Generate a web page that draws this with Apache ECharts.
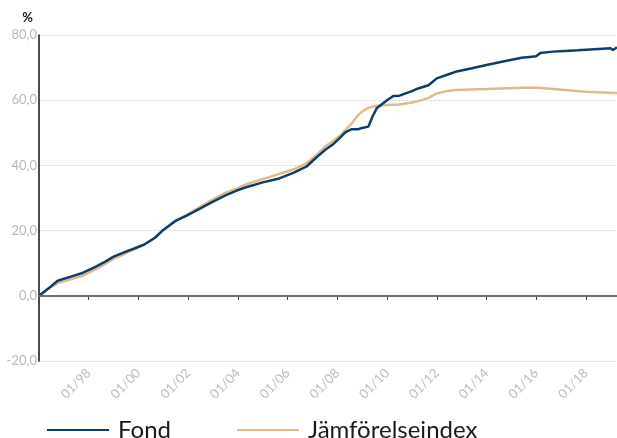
<!DOCTYPE html>
<html>
<head>
<meta charset="utf-8">
<script src="https://cdn.jsdelivr.net/npm/echarts@6/dist/echarts.min.js"></script>
<style>
  html, body { margin: 0; padding: 0; background: #fff; }
  #chart { width: 617px; height: 438px; }
</style>
</head>
<body>
<div id="chart"></div>
<script>
var fondDates = ['1996-01','1996-04','1996-07','1996-10','1997-04','1997-10','1998-04','1998-09',
  '1999-01','1999-06','1999-11','2000-04','2000-09','2001-01','2001-07','2001-12','2002-06',
  '2003-01','2003-07','2004-01','2004-05','2005-01','2005-09','2006-04','2006-10','2007-03',
  '2007-07','2007-11','2008-02','2008-05','2008-08','2008-11','2009-01','2009-04','2009-06',
  '2009-08','2010-01','2010-04','2010-07','2011-01','2011-04','2011-09','2012-01','2012-06',
  '2012-10','2013-06','2014-01','2014-09','2015-06','2016-01','2016-03','2016-09','2017-03',
  '2017-09','2018-01','2018-07','2019-01','2019-02','2019-04'];
var fondValues = [0, 1.5, 3.0, 4.6, 5.8, 7.0, 8.8, 10.5,
  12.0, 13.3, 14.5, 15.8, 17.8, 20.2, 23.0, 24.5, 26.5,
  28.9, 30.8, 32.4, 33.3, 34.8, 36.0, 37.8, 39.6, 42.5,
  44.7, 46.5, 48.3, 50.2, 51.1, 51.1, 51.5, 51.9, 55.0,
  57.5, 60.0, 61.3, 61.4, 62.8, 63.6, 64.6, 66.7, 67.8,
  68.7, 69.8, 70.8, 71.9, 73.0, 73.5, 74.5, 74.9, 75.1,
  75.3, 75.5, 75.7, 75.9, 75.4, 76.2];

var indexDates = ['1996-01','1996-07','1996-10','1997-04','1997-10','1998-04','1998-09','1999-01',
  '1999-06','1999-11','2000-04','2000-09','2001-01','2001-07','2001-12','2002-06','2003-01',
  '2003-07','2004-01','2004-05','2005-01','2005-09','2006-04','2006-10','2007-03','2007-07',
  '2007-11','2008-02','2008-05','2008-08','2008-11','2009-01','2009-04','2009-08','2010-01',
  '2010-07','2011-01','2011-04','2011-09','2012-01','2012-06','2012-10','2014-01','2015-06',
  '2016-02','2017-03','2018-01','2019-01','2019-04'];
var indexValues = [0, 2.8, 3.9, 5.0, 6.1, 8.0, 9.8, 11.3,
  12.8, 14.3, 15.8, 17.8, 20.2, 23.2, 24.7, 27.0, 29.6,
  31.6, 33.0, 34.2, 35.8, 37.4, 38.8, 40.6, 43.2, 45.7,
  47.5, 49.0, 51.0, 52.9, 55.4, 56.5, 57.7, 58.3, 58.5,
  58.7, 59.3, 59.7, 60.7, 62.1, 62.8, 63.1, 63.4, 63.8,
  63.8, 63.1, 62.6, 62.3, 62.2];

var tickYears = [1998, 2000, 2002, 2004, 2006, 2008, 2010, 2012, 2014, 2016, 2018];
var seriesNames = ['Fond', 'Jämförelseindex'];

function toYear(s) {
  var p = s.split('-');
  return +p[0] + (+p[1] - 1) / 12;
}
function pairs(dates, vals) {
  return dates.map(function (d, i) { return [toYear(d), vals[i]]; });
}

var chart = echarts.init(document.getElementById('chart'));
chart.setOption({
  animation: false,
  textStyle: { fontFamily: 'Lato' },
  grid: { left: 39, right: 0, top: 35, bottom: 77 },
  legend: {
    left: 42, top: 413,
    itemWidth: 62, itemHeight: 2, itemGap: 66,
    icon: 'rect',
    textStyle: { fontSize: 24, color: '#1a1a1a', padding: [0, 0, 0, 4] },
    data: seriesNames
  },
  xAxis: {
    type: 'value',
    min: 1996, max: 2019.25,
    axisLine: { show: false },
    splitLine: { show: false },
    axisTick: { show: true, length: 4, customValues: tickYears, lineStyle: { color: '#333' } },
    axisLabel: {
      customValues: tickYears,
      rotate: 45, color: '#bdbdbd', fontSize: 13, margin: 10,
      formatter: function (v) { return '01/' + String(v).slice(2); }
    }
  },
  yAxis: {
    type: 'value',
    min: -20, max: 80, interval: 20,
    name: '%', nameLocation: 'end', nameGap: 11,
    nameTextStyle: { color: '#222', fontSize: 13, fontWeight: 'bold', align: 'right', padding: [0, 6, 0, 0] },
    axisLine: { show: true, lineStyle: { color: '#111', width: 1.5 } },
    axisTick: { show: false },
    axisLabel: {
      color: '#b8b8b8', fontSize: 13, margin: 2,
      formatter: function (v) { return v.toFixed(1).replace('.', ','); }
    },
    splitLine: { show: true, lineStyle: { color: '#d0d0d0', type: 'dotted', width: 1 } }
  },
  series: [
    {
      name: seriesNames[0], type: 'line', showSymbol: false, z: 3,
      data: pairs(fondDates, fondValues),
      lineStyle: { color: '#0b3e6c', width: 2.5 },
      itemStyle: { color: '#0b3e6c' },
      markLine: {
        silent: true, symbol: 'none', label: { show: false },
        lineStyle: { color: '#6e6e6e', width: 2, type: 'solid' },
        data: [{ yAxis: 0 }]
      }
    },
    {
      name: seriesNames[1], type: 'line', showSymbol: false, z: 2,
      data: pairs(indexDates, indexValues),
      lineStyle: { color: '#dfbb8b', width: 2.5 },
      itemStyle: { color: '#dfbb8b' }
    }
  ]
});
</script>
</body>
</html>
